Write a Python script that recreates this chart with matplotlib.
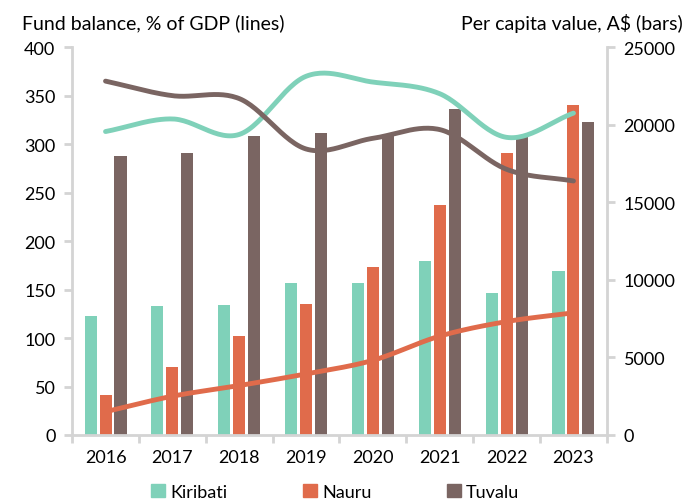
import numpy as np
import matplotlib.pyplot as plt
from matplotlib.patches import Patch

years = ['2016', '2017', '2018', '2019', '2020', '2021', '2022', '2023']

# per capita value, A$ (bars, right axis)
kiribati_bars = [7700, 8300, 8400, 9800, 9800, 11200, 9150, 10600]
nauru_bars = [2600, 4400, 6400, 8450, 10800, 14800, 18150, 21250]
tuvalu_bars = [18000, 18150, 19300, 19450, 19250, 21000, 19350, 20150]

# fund balance, % of GDP (lines, left axis)
kiribati_line = [313, 326, 310, 370, 364, 352, 307, 332]
nauru_line = [24, 40, 51, 63, 77, 102, 117, 126]
tuvalu_line = [365, 350, 347, 295, 306, 315, 274, 262]

c_kir = '#7fd1b9'
c_nau = '#e06b4b'
c_tuv = '#7a6562'
grid_c = '#d4d4d4'

plt.rcParams['font.family'] = ['Lato', 'DejaVu Sans']
plt.rcParams['font.size'] = 13


def smooth(x, y, n=30):
    # catmull-rom through the points, like a spreadsheet "smoothed line"
    x = np.asarray(x, float)
    y = np.asarray(y, float)
    px = np.concatenate([[2*x[0]-x[1]], x, [2*x[-1]-x[-2]]])
    py = np.concatenate([[2*y[0]-y[1]], y, [2*y[-1]-y[-2]]])
    xs, ys = [], []
    t = np.linspace(0, 1, n)
    for i in range(1, len(px)-2):
        for p, out in ((px, xs), (py, ys)):
            p0, p1, p2, p3 = p[i-1], p[i], p[i+1], p[i+2]
            out.extend(0.5*((2*p1) + (-p0+p2)*t + (2*p0-5*p1+4*p2-p3)*t**2
                            + (-p0+3*p1-3*p2+p3)*t**3))
    return np.array(xs), np.array(ys)


fig = plt.figure(figsize=(7, 5.02), dpi=100)
ax = fig.add_axes([0.103, 0.1315, 0.764, 0.7725])
ax2 = ax.twinx()

x = np.arange(len(years))
w = 0.18
off = 0.224
ax2.bar(x - off, kiribati_bars, width=w, color=c_kir)
ax2.bar(x, nauru_bars, width=w, color=c_nau)
ax2.bar(x + off, tuvalu_bars, width=w, color=c_tuv)

for vals, col in ((kiribati_line, c_kir), (nauru_line, c_nau), (tuvalu_line, c_tuv)):
    sx, sy = smooth(x, vals)
    ax.plot(sx, sy, color=col, lw=3.5, solid_capstyle='round')

ax.set_zorder(ax2.get_zorder() + 1)
ax.patch.set_visible(False)

ax.set_xlim(-0.5, len(years) - 0.5)
ax.set_ylim(0, 400)
ax2.set_ylim(0, 25000)
ax.set_yticks(np.arange(0, 401, 50))
ax2.set_yticks(np.arange(0, 25001, 5000))

ax.set_xticks(x)
ax.set_xticklabels(years)
ax.set_xticks(np.arange(-0.5, len(years), 1), minor=True)
ax.tick_params(axis='x', which='major', length=0, pad=10)
ax.tick_params(axis='x', which='minor', length=6, width=2, color=grid_c, direction='out')
ax.tick_params(axis='y', length=6, width=2, color=grid_c, pad=6)
ax2.tick_params(axis='y', length=6, width=2, color=grid_c, pad=6)

for a in (ax, ax2):
    a.spines['top'].set_visible(False)
    for s in ('left', 'right', 'bottom'):
        a.spines[s].set_color(grid_c)
        a.spines[s].set_linewidth(2)
ax.spines['right'].set_visible(False)
ax2.spines['left'].set_visible(False)
ax2.spines['bottom'].set_visible(False)

fig.text(0.031, 0.953, 'Fund balance, % of GDP (lines)', fontsize=14, va='center')
fig.text(0.976, 0.953, 'Per capita value, A$ (bars)', fontsize=14, va='center', ha='right')

handles = [Patch(color=c_kir, label='Kiribati'),
           Patch(color=c_nau, label='Nauru'),
           Patch(color=c_tuv, label='Tuvalu')]
fig.legend(handles=handles, loc='center', bbox_to_anchor=(0.479, 0.018), ncol=3,
           frameon=False, handlelength=0.75, handleheight=0.75, handletextpad=0.3,
           columnspacing=4.2, borderpad=0)

fig.savefig('out.png', dpi=100)
